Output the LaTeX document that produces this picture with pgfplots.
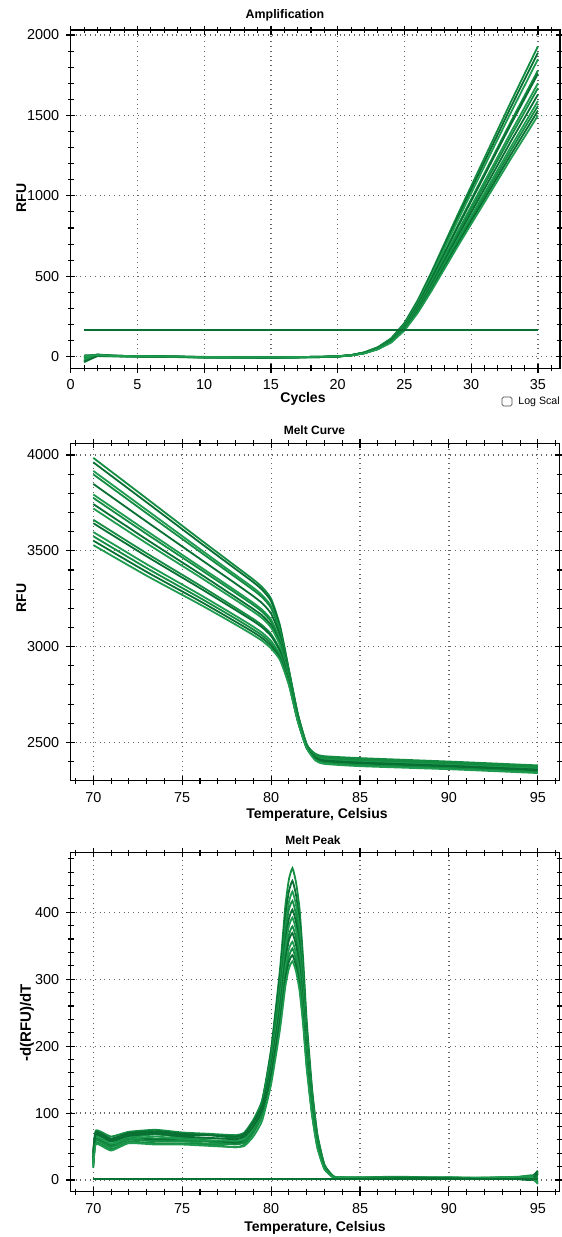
\documentclass[border=0pt]{standalone}
\usepackage{fontspec}
\setmainfont{Liberation Sans}
\usepackage{pgfplots}
\usepackage{pgfplotstable}
\pgfplotsset{compat=1.18}
\definecolor{gA}{RGB}{20,140,66}
\definecolor{gB}{RGB}{8,112,50}
\definecolor{gC}{RGB}{30,155,78}

\pgfplotstableread{
c y1 y2 y3 y4 y5 y6 y7 y8 y9 y10 y11 y12
1 -35 -10 5 -20 0 -28 -5 8 -15 -2 -30 3
2 8 12 6 10 14 5 9 11 7 13 4 10
3 5 7 4 6 8 3 5 6 4 7 3 5
4 4 5 3 4 5 2 4 5 3 4 2 4
5 3 4 2 3 4 2 3 4 2 3 1 3
7 1 2 0 1 2 0 1 2 0 1 -1 1
10 -3 -2 -4 -3 -1 -4 -3 -2 -4 -3 -5 -2
13 -4 -3 -5 -4 -3 -5 -4 -3 -6 -4 -5 -3
15 -5 -4 -6 -5 -4 -6 -5 -4 -6 -5 -6 -4
17 -3 -2 -4 -3 -2 -4 -3 -2 -4 -3 -4 -2
19 -1 0 -2 -1 0 -1 -1 0 -2 -1 -2 0
20 2 3 1 2 3 2 2 3 1 2 1 2
21 10 10 10 9 9 9 9 9 8 8 8 8
22 27 27 26 25 25 24 24 23 22 22 22 21
23 59 58 57 54 54 52 51 50 49 48 47 46
24 114 111 109 105 104 100 98 96 94 92 90 88
25 210 206 201 194 191 185 182 177 173 170 167 163
26 352 345 337 325 321 310 304 297 290 285 279 273
27 522 512 500 482 476 460 452 441 430 422 414 406
28 704 689 675 649 642 620 609 595 580 569 558 547
29 885 867 849 817 807 780 766 748 729 716 702 688
30 1061 1040 1017 979 968 935 918 897 874 858 842 825
31 1237 1212 1186 1141 1128 1090 1070 1045 1019 1001 981 961
32 1413 1384 1355 1304 1289 1245 1223 1194 1164 1143 1121 1098
33 1589 1557 1523 1466 1449 1400 1375 1343 1309 1285 1260 1235
34 1759 1724 1686 1623 1604 1550 1522 1486 1449 1423 1395 1367
35 1930 1890 1850 1780 1760 1700 1670 1630 1590 1560 1530 1500
}\ampl

\pgfplotstableread{
t m1 m2 m3 m4 m5 m6 m7 m8 m9 m10 m11 m12 m13 m14 m15
70 3985 3962 3917 3899 3849 3794 3776 3744 3721 3662 3644 3598 3576 3553 3530
73 3773 3753 3713 3696 3652 3604 3588 3559 3539 3487 3471 3430 3410 3390 3370
76 3560 3543 3509 3495 3458 3417 3404 3380 3363 3319 3305 3271 3254 3237 3220
78 3420 3405 3374 3362 3329 3292 3280 3258 3243 3203 3191 3161 3146 3130 3115
79 3350 3336 3307 3295 3263 3228 3217 3196 3182 3144 3133 3104 3089 3075 3060
79.5 3310 3296 3268 3257 3226 3192 3181 3162 3148 3111 3100 3072 3058 3044 3030
80 3250 3237 3211 3201 3172 3141 3130 3112 3099 3065 3055 3029 3016 3003 2990
80.5 3110 3101 3083 3076 3056 3034 3027 3015 3006 2982 2975 2957 2948 2939 2930
81 2880 2876 2868 2865 2856 2846 2843 2838 2834 2823 2820 2812 2808 2804 2800
81.5 2650 2648 2644 2642 2638 2633 2632 2629 2627 2622 2620 2616 2614 2612 2610
82 2490 2489 2487 2486 2484 2482 2481 2479 2478 2476 2475 2473 2472 2471 2470
82.5 2426 2437 2416 2440 2423 2412 2430 2419 2409 2433 2417 2424 2410 2421 2405
83 2412 2424 2400 2428 2408 2396 2416 2404 2392 2420 2402 2410 2394 2406 2388
85 2401 2414 2389 2418 2397 2384 2405 2393 2380 2410 2391 2399 2382 2395 2376
90 2384 2396 2372 2400 2380 2368 2388 2376 2364 2392 2374 2382 2366 2378 2360
95 2364 2376 2352 2380 2360 2348 2368 2356 2344 2372 2354 2362 2346 2358 2340
}\melt

\pgfplotstableread{
t p1 p2 p3 p4 p5 p6 p7 p8 p9 p10 p11 p12
70 30 40 22 38 26 35 18 42 28 24 33 20
70.15 64 70 59 74 62 67 56 72 64 60 68 54
71 54 60 49 65 52 57 46 62 54 50 58 44
72 65 68 60 72 63 64 57 70 61 60 66 55
73.5 62 71 58 75 60 68 55 73 65 58 69 53
75 63 67 58 71 61 64 55 69 61 59 65 53
76.5 59 67 54 69 59 62 53 67 59 57 63 51
78 57 63 54 67 55 62 49 65 59 53 61 49
78.5 61 67 56 71 59 64 53 69 61 57 65 51
79 81 87 75 90 77 82 70 86 77 72 80 65
79.5 115 119 106 119 106 109 97 111 102 97 104 89
80 195 194 180 187 174 174 161 170 160 154 157 143
80.5 315 306 291 289 276 271 258 258 247 239 237 225
80.8 409 394 378 370 356 347 334 328 316 306 300 289
81 449 431 415 404 390 379 366 358 345 334 326 316
81.2 466 447 431 417 404 392 379 369 356 346 336 327
81.4 445 426 411 397 385 374 362 351 339 329 320 312
81.6 405 387 374 361 350 340 329 319 308 299 290 283
81.8 331 317 306 295 287 278 269 261 252 245 238 232
82 239 229 221 213 207 201 194 188 182 177 172 167
82.3 138 132 128 123 119 116 112 109 105 102 99 97
82.6 69 66 64 62 60 58 56 54 53 51 50 48
83 23 22 21 21 20 19 19 18 18 17 17 16
83.5 6 5 5 5 5 5 5 4 4 4 4 4
84 3 2 4 3 2 4 3 2 3 4 2 3
87 4 3 2 5 3 2 4 3 2 4 3 2
90 3 2 4 3 2 3 4 2 3 2 3 2
93 2 3 3 2 4 3 2 3 4 2 3 4
94.6 4 1 6 2 5 3 7 0 4 6 2 5
95 12 -3 8 0 14 -6 5 10 -2 3 9 -4
}\peak

\pgfplotsset{
  qp/.style={
    scale only axis, anchor=south west,
    axis line style={black, line width=0.75pt},
    grid=major, major grid style={dotted, black!60, line width=0.6pt},
    tick style={black, line width=0.55pt},
    tick align=center, major tick length=4.5pt, minor tick length=3pt,
    ticklabel style={font=\fontsize{7.2}{8}\selectfont},
    /pgf/number format/assume math mode=true,
    /pgf/number format/1000 sep={},
    no markers,
    cycle list={{gA,line width=0.9pt},{gB,line width=0.9pt},{gC,line width=0.9pt}},
  }
}

\begin{document}
\begin{tikzpicture}
\useasboundingbox (0,0) rectangle (281pt,-618.5pt);
\clip (0,0) rectangle (281pt,-618.5pt);

% Panel 1: Amplification
\begin{axis}[qp, at={(35.35pt,-184.15pt)}, width=244.65pt, height=169.15pt,
  xmin=0, xmax=36.65, ymin=-72, ymax=2031,
  xtick={0,5,...,35}, minor xtick={1,2,...,36},
  ytick={0,500,...,2000}, minor ytick={100,200,...,2000}]
\pgfplotsinvokeforeach{1,...,12}{\addplot table[x index=0, y index=#1]{\ampl};}
\addplot[gB, line width=1.1pt] coordinates {(1,165) (35,165)};
\end{axis}

% Panel 2: Melt Curve
\begin{axis}[qp, at={(35.35pt,-390.35pt)}, width=244.5pt, height=168.7pt,
  xmin=68.73, xmax=96.23, ymin=2300, ymax=4061,
  xtick={70,75,...,95}, minor xtick={69,70,...,96},
  ytick={2500,3000,...,4000}, minor ytick={2400,2500,...,4000}]
\pgfplotsinvokeforeach{1,...,15}{\addplot+[smooth, tension=0.35] table[x index=0, y index=#1]{\melt};}
\end{axis}

% Panel 3: Melt Peak
\begin{axis}[qp, at={(35.35pt,-595.85pt)}, width=244.5pt, height=169.5pt,
  xmin=68.73, xmax=96.23, ymin=-17.5, ymax=489,
  xtick={70,75,...,95}, minor xtick={69,70,...,96},
  ytick={0,100,...,400}, minor ytick={0,20,...,480}]
\pgfplotsinvokeforeach{1,...,12}{\addplot+[smooth, tension=0.3] table[x index=0, y index=#1]{\peak};}
\addplot[gB, line width=1.1pt] coordinates {(70,1) (95,1)};
\end{axis}

% Titles and labels
\begin{scope}[every node/.style={inner sep=0pt}]
\node[font=\fontsize{6.2}{7}\selectfont\bfseries] at (142.5pt,-7.85pt) {Amplification};
\node[font=\fontsize{7}{8}\selectfont\bfseries] at (151.5pt,-199.5pt) {Cycles};
\node[font=\fontsize{7}{8}\selectfont\bfseries, rotate=90] at (10.75pt,-99pt) {RFU};
\draw[black!70, line width=0.4pt, rounded corners=0.8pt] (251pt,-198.5pt) rectangle (256pt,-203pt);
\node[font=\fontsize{5.3}{6}\selectfont, anchor=west] at (259pt,-201pt) {Log Scal};

\node[font=\fontsize{6}{7}\selectfont\bfseries] at (157.25pt,-215pt) {Melt Curve};
\node[font=\fontsize{7}{8}\selectfont\bfseries] at (158.5pt,-407.5pt) {Temperature, Celsius};
\node[font=\fontsize{7}{8}\selectfont\bfseries, rotate=90] at (10.75pt,-299pt) {RFU};

\node[font=\fontsize{6}{7}\selectfont\bfseries] at (156.5pt,-420pt) {Melt Peak};
\node[font=\fontsize{7}{8}\selectfont\bfseries] at (157.5pt,-614pt) {Temperature, Celsius};
\node[font=\fontsize{7.5}{8}\selectfont\bfseries, rotate=90] at (13.5pt,-511.5pt) {-d(RFU)/dT};
\end{scope}
\end{tikzpicture}
\end{document}
